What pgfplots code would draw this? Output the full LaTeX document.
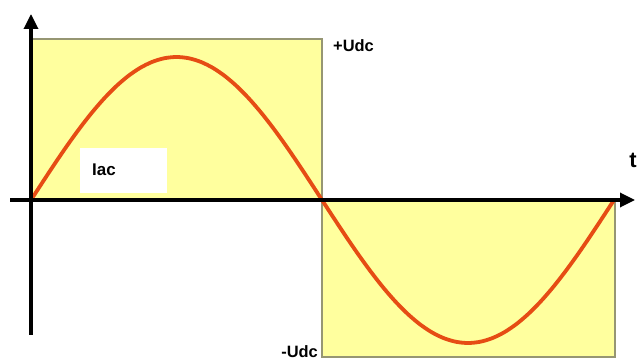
\documentclass[border=0pt]{standalone}
\usepackage{pgfplots}
\pgfplotsset{compat=1.18}
\usepackage{fontspec}
\setmainfont{Liberation Sans}
\usetikzlibrary{arrows.meta}
\definecolor{rectfill}{RGB}{255,255,158}
\definecolor{rectedge}{RGB}{150,150,115}
\definecolor{wave}{RGB}{230,76,20}
\begin{document}
\begin{tikzpicture}
\begin{axis}[
  width=638bp, height=360bp, scale only axis,
  xmin=0, xmax=638, ymin=-160, ymax=200,
  hide axis, clip=false,
]
% rectangles
\addplot[fill=rectfill, draw=rectedge, line width=1.5bp] coordinates {(31,0) (322,0) (322,161) (31,161)} -- cycle;
\addplot[fill=rectfill, draw=rectedge, line width=1.5bp] coordinates {(322,0) (615,0) (615,-157) (322,-157)} -- cycle;
% Iac box
\addplot[fill=white, draw=none] coordinates {(80,7) (167,7) (167,52) (80,52)} -- cycle;
% sine wave
\addplot[wave, line width=3.8bp, smooth] coordinates {
(31,0) (43.125,18.66) (55.25,37.01) (67.375,54.73) (79.5,71.5) (91.625,87.06) (103.75,101.12) (115.875,113.46) (128,123.84) (140.125,132.12) (152.25,138.12) (164.375,141.77) (176.5,143)
(188.625,141.77) (200.75,138.12) (212.875,132.12) (225,123.84) (237.125,113.46) (249.25,101.12) (261.375,87.06) (273.5,71.5) (285.625,54.73) (297.75,37.01) (309.875,18.66) (322,0)
(334.17,-18.66) (346.33,-37.01) (358.5,-54.73) (370.67,-71.5) (382.83,-87.06) (395,-101.12) (407.17,-113.46) (419.33,-123.84) (431.5,-132.12) (443.67,-138.12) (455.83,-141.77) (468,-143)
(480.17,-141.77) (492.33,-138.12) (504.5,-132.12) (516.67,-123.84) (528.83,-113.46) (541,-101.12) (553.17,-87.06) (565.33,-71.5) (577.5,-54.73) (589.67,-37.01) (601.83,-18.66) (614,0)
};
% axes
\addplot[black, line width=3.3bp, -{Triangle[length=15bp,width=14bp]}] coordinates {(10,0) (635,0)};
\addplot[black, line width=3.3bp, -{Triangle[length=15bp,width=14bp]}] coordinates {(31,-135) (31,186)};
% labels
\node[font=\bfseries\fontsize{16.5}{18}\selectfont, anchor=west, inner sep=0pt] at (axis cs:333,154) {+Udc};
\node[font=\bfseries\fontsize{16.5}{18}\selectfont, anchor=east, inner sep=0pt] at (axis cs:318,-152) {-Udc};
\node[font=\bfseries\fontsize{17}{18}\selectfont, anchor=west, inner sep=0pt] at (axis cs:92,30) {Iac};
\node[font=\bfseries\fontsize{22}{23}\selectfont, inner sep=0pt] at (axis cs:633,40) {t};
\end{axis}
\pgfresetboundingbox
\path[use as bounding box] (current axis.south west) rectangle (current axis.north east);
\end{tikzpicture}
\end{document}
